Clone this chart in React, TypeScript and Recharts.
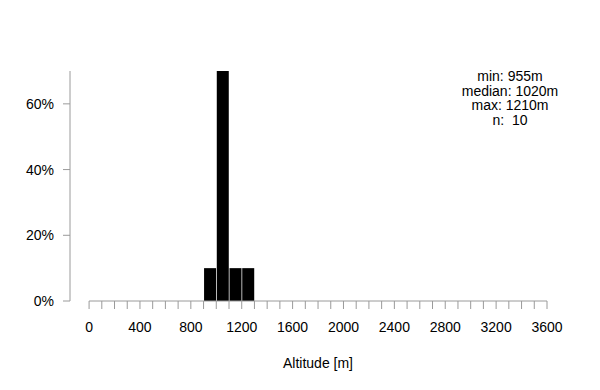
import React from 'react';
import { ComposedChart, Bar, XAxis, YAxis, ReferenceLine } from 'recharts';

// histogram of altitude, share of samples per 100 m bin
const binCenters = [950, 1050, 1150, 1250];
const sharePct = [10, 70, 10, 10];

const xTicks = [
  0, 100, 200, 300, 400, 500, 600, 700, 800, 900, 1000, 1100, 1200, 1300, 1400, 1500, 1600, 1700, 1800,
  1900, 2000, 2100, 2200, 2300, 2400, 2500, 2600, 2700, 2800, 2900, 3000, 3100, 3200, 3300, 3400, 3500, 3600,
];
const xLabelTicks = [0, 400, 800, 1200, 1600, 2000, 2400, 2800, 3200, 3600];
const yTicks = [0, 20, 40, 60];

const statLines = ['min: 955m', 'median: 1020m', 'max: 1210m', 'n:  10'];

const data = binCenters.map((x, i) => ({ x, share: sharePct[i] }));

const FONT = '"Liberation Sans", Arial, sans-serif';
const AXIS = '#9a9a9a';

const XLabel = ({ viewBox }: any) => {
  if (!viewBox) return null;
  return (
    <text
      x={viewBox.x + viewBox.width / 2 + 9.5}
      y={viewBox.y + 62}
      textAnchor="middle"
      dominantBaseline="central"
      fontSize={14}
      fontFamily={FONT}
      fill="#000"
    >
      Altitude [m]
    </text>
  );
};

export default function App() {
  return (
    <div style={{ position: 'absolute', left: 0, top: 0, width: 600, height: 390, background: '#fff' }}>
      <ComposedChart
        width={600}
        height={390}
        data={data}
        margin={{ top: 71, right: 53, bottom: 0, left: 0 }}
        barCategoryGap={0.5}
        style={{ fontFamily: FONT }}
      >
        <XAxis
          dataKey="x"
          type="number"
          domain={[-150, 3600]}
          allowDataOverflow
          ticks={xTicks}
          interval={0}
          axisLine={false}
          tickLine={{ stroke: AXIS }}
          tickSize={8}
          tickMargin={13}
          height={89}
          tick={{ fill: '#000', fontSize: 14 }}
          tickFormatter={(v: number) => (xLabelTicks.includes(v) ? String(v) : '')}
          label={<XLabel />}
        />
        <YAxis
          type="number"
          domain={[0, 70]}
          allowDataOverflow
          ticks={yTicks}
          interval={0}
          width={70}
          axisLine={{ stroke: AXIS }}
          tickLine={{ stroke: AXIS }}
          tickSize={7}
          tickMargin={9}
          tick={{ fill: '#000', fontSize: 14 }}
          tickFormatter={(v: number) => `${v}%`}
        />
        <ReferenceLine
          segment={[
            { x: 0, y: 0 },
            { x: 3600, y: 0 },
          ]}
          stroke={AXIS}
          ifOverflow="visible"
        />
        <Bar dataKey="share" fill="#000" isAnimationActive={false} />
      </ComposedChart>
      <div
        style={{
          position: 'absolute',
          left: 430,
          top: 69,
          width: 160,
          textAlign: 'center',
          fontFamily: FONT,
          fontSize: 14,
          lineHeight: '14.5px',
          whiteSpace: 'pre',
          color: '#000',
        }}
      >
        {statLines.map((s) => (
          <div key={s}>{s}</div>
        ))}
      </div>
    </div>
  );
}
